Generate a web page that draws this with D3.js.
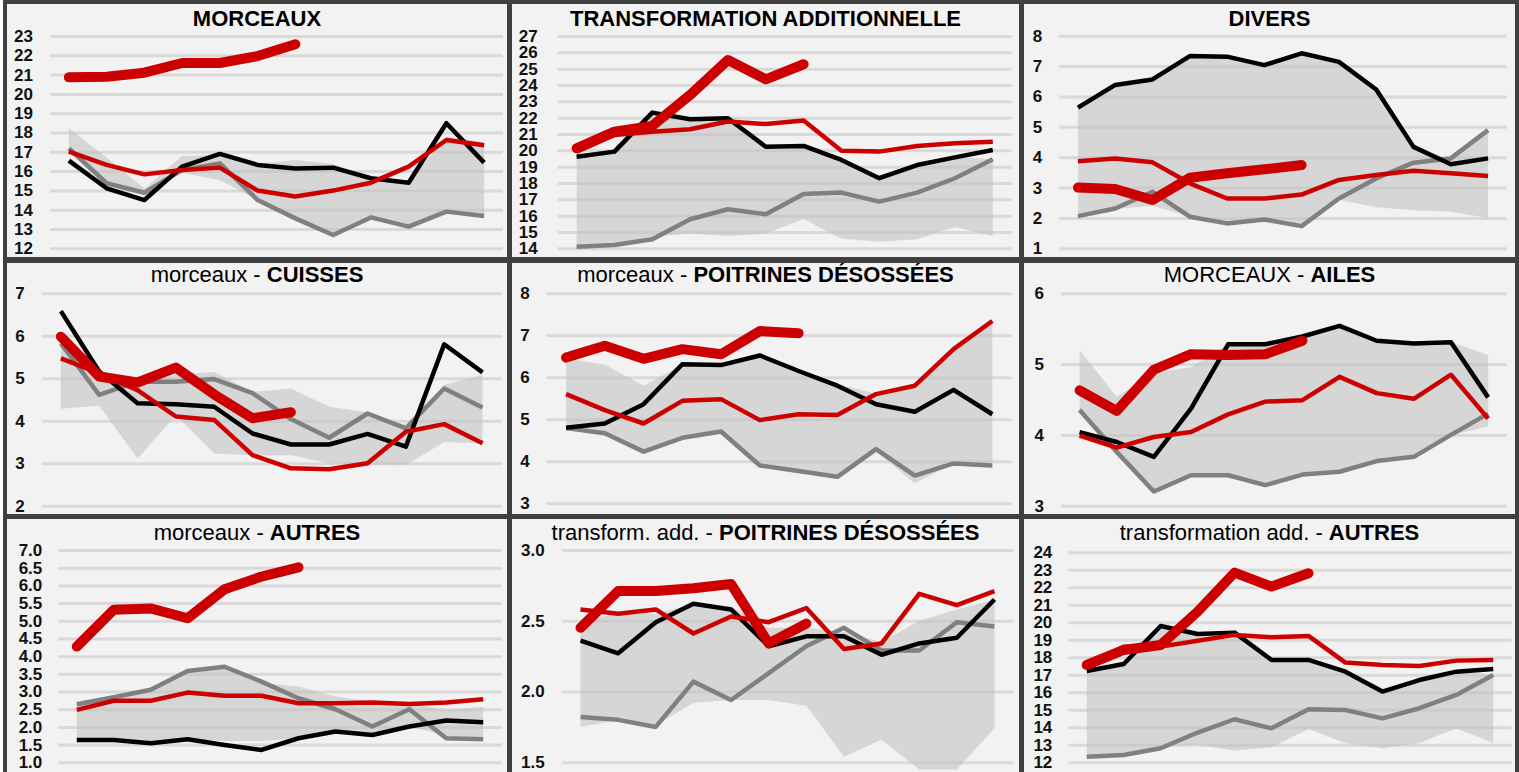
<!DOCTYPE html>
<html><head><meta charset="utf-8">
<script src="https://cdn.jsdelivr.net/npm/d3@7"></script>
<style>
html,body{margin:0;padding:0;background:#fff;overflow:hidden;}
svg{display:block;font-family:"Liberation Sans",Arial,sans-serif;}
</style></head><body>
<svg id="chart" width="1519" height="772"></svg>
<script>
// ---------- categories ----------
const mois = ["janv.","févr.","mars","avr.","mai","juin","juil.","août","sept.","oct.","nov.","déc."];

// ---------- titles ----------
const titresNormaux = ["", "", "", "morceaux - ", "morceaux - ", "MORCEAUX - ", "morceaux - ", "transform. add. - ", "transformation add. - "];
const titresGras = ["MORCEAUX", "TRANSFORMATION ADDITIONNELLE", "DIVERS", "CUISSES", "POITRINES DÉSOSSÉES", "AILES", "AUTRES", "POITRINES DÉSOSSÉES", "AUTRES"];

// ---------- tick labels ----------
const ticks_morceaux = [12,13,14,15,16,17,18,19,20,21,22,23];
const ticks_transfo = [14,15,16,17,18,19,20,21,22,23,24,25,26,27];
const ticks_divers = [1,2,3,4,5,6,7,8];
const ticks_cuisses = [2,3,4,5,6,7];
const ticks_poitrines = [3,4,5,6,7,8];
const ticks_ailes = [3,4,5,6];
const ticks_autresMorceaux = [1.0,1.5,2.0,2.5,3.0,3.5,4.0,4.5,5.0,5.5,6.0,6.5,7.0];
const ticks_poitrinesTransfo = [1.5,2.0,2.5,3.0];
const ticks_autresTransfo = [12,13,14,15,16,17,18,19,20,21,22,23,24];

// ---------- MORCEAUX ----------
const morceaux_min   = [17.18,15.37,14.76,15.9,15.54,14.5,13.55,12.69,13.6,13.12,13.9,13.67];
const morceaux_max   = [18.22,16.7,15.1,16.78,16.84,16.4,16.57,16.37,15.7,15.45,17.78,17.5];
const morceaux_gris  = [17.18,15.37,14.88,16.06,16.4,14.5,13.55,12.69,13.6,13.12,13.9,13.67];
const morceaux_noir  = [16.54,15.11,14.5,16.23,16.89,16.32,16.14,16.18,15.63,15.4,18.48,16.44];
const morceaux_rouge = [17.01,16.32,15.83,16.06,16.18,14.99,14.68,14.99,15.4,16.23,17.61,17.34];
const morceaux_actuel= [20.86,20.89,21.1,21.6,21.6,21.96,22.57];

// ---------- TRANSFORMATION ADDITIONNELLE ----------
const transfo_min   = [14.1,14.2,14.7,14.9,14.75,14.9,15.78,14.6,14.4,14.55,15.3,14.75];
const transfo_max   = [19.6,19.9,22.3,22.0,22.0,20.3,20.3,19.5,18.3,19.1,19.6,19.45];
const transfo_gris  = [14.1,14.2,14.55,15.78,16.39,16.08,17.33,17.41,16.86,17.41,18.29,19.45];
const transfo_noir  = [19.61,19.92,22.31,21.9,21.96,20.22,20.27,19.41,18.29,19.1,19.57,20.02];
const transfo_rouge = [19.92,20.94,21.14,21.29,21.76,21.61,21.82,19.98,19.92,20.27,20.43,20.53];
const transfo_actuel= [20.12,21.14,21.49,23.39,25.53,24.35,25.27];

// ---------- DIVERS ----------
const divers_min   = [2.0,2.3,2.4,2.05,1.85,1.95,1.75,2.6,2.35,2.25,2.2,2.0];
const divers_max   = [5.63,6.38,6.56,7.33,7.31,7.03,7.42,7.14,6.23,4.34,3.9,4.89];
const divers_gris  = [2.06,2.31,2.86,2.04,1.82,1.95,1.73,2.64,3.3,3.82,3.96,4.89];
const divers_noir  = [5.63,6.38,6.56,7.33,7.31,7.03,7.42,7.14,6.23,4.34,3.77,3.96];
const divers_rouge = [3.87,3.96,3.83,3.14,2.64,2.64,2.77,3.25,3.41,3.55,3.47,3.38];
const divers_actuel= [3.0,2.95,2.59,3.32,3.47,3.6,3.74];

// ---------- morceaux - CUISSES ----------
const cuisses_min   = [4.28,4.35,3.11,4.13,3.23,3.19,3.19,3.0,2.97,2.96,3.5,3.47];
const cuisses_max   = [5.9,5.15,4.85,5.08,5.15,4.68,4.76,4.33,4.2,3.9,4.84,5.08];
const cuisses_gris  = [5.82,4.61,4.92,4.92,4.98,4.65,4.04,3.6,4.17,3.82,4.76,4.31];
const cuisses_noir  = [6.58,5.16,4.41,4.39,4.33,3.7,3.44,3.44,3.69,3.39,5.8,5.14];
const cuisses_rouge = [5.47,5.12,4.72,4.1,4.02,3.19,2.88,2.86,3.0,3.74,3.92,3.47];
const cuisses_actuel= [5.98,5.04,4.9,5.25,4.62,4.06,4.2];

// ---------- morceaux - POITRINES DÉSOSSÉES ----------
const poitrines_min   = [4.79,4.67,4.23,4.56,4.71,3.9,3.77,3.63,4.23,3.48,3.95,3.9];
const poitrines_max   = [6.45,6.3,5.8,6.3,6.3,6.5,6.15,5.85,5.6,5.8,6.67,7.3];
const poitrines_gris  = [4.79,4.67,4.23,4.56,4.71,3.9,3.77,3.63,4.29,3.66,3.95,3.9];
const poitrines_noir  = [4.8,4.9,5.36,6.31,6.29,6.52,6.15,5.8,5.36,5.18,5.7,5.12];
const poitrines_rouge = [5.6,5.22,4.9,5.44,5.48,4.98,5.12,5.1,5.6,5.8,6.67,7.34];
const poitrines_actuel= [6.47,6.75,6.44,6.67,6.55,7.1,7.05];

// ---------- MORCEAUX - AILES ----------
const ailes_min   = [4.35,3.76,3.2,3.43,3.43,3.29,3.44,3.48,3.63,3.69,4.0,4.12];
const ailes_max   = [5.2,4.54,4.87,4.96,5.28,5.31,5.39,5.54,5.33,5.29,5.31,5.13];
const ailes_gris  = [4.35,3.76,3.2,3.43,3.43,3.29,3.44,3.48,3.63,3.69,4.0,4.3];
const ailes_noir  = [4.04,3.9,3.69,4.37,5.28,5.28,5.39,5.54,5.33,5.29,5.31,4.53];
const ailes_rouge = [3.99,3.82,3.97,4.04,4.29,4.47,4.49,4.82,4.59,4.51,4.85,4.23];
const ailes_actuel= [4.63,4.34,4.92,5.14,5.13,5.14,5.33];

// ---------- morceaux - AUTRES ----------
const autresMorceaux_min   = [1.63,1.63,1.58,1.65,1.6,1.6,1.68,1.87,1.77,2.01,1.75,1.68];
const autresMorceaux_max   = [2.64,2.86,3.05,3.52,3.66,3.24,3.14,2.86,2.72,2.67,2.48,2.57];
const autresMorceaux_gris  = [2.64,2.84,3.05,3.58,3.7,3.28,2.81,2.5,2.01,2.5,1.68,1.65];
const autresMorceaux_noir  = [1.63,1.63,1.54,1.65,1.49,1.35,1.68,1.87,1.77,2.01,2.18,2.13];
const autresMorceaux_rouge = [2.48,2.74,2.74,2.97,2.88,2.88,2.67,2.67,2.69,2.65,2.69,2.78];
const autresMorceaux_actuel= [4.27,5.31,5.35,5.07,5.89,6.25,6.51];

// ---------- transform. add. - POITRINES DÉSOSSÉES ----------
const poitrinesTransfo_min   = [1.75,1.8,1.76,1.92,1.94,1.94,1.9,1.54,1.66,1.45,1.45,1.74];
const poitrinesTransfo_max   = [2.5,2.55,2.55,2.62,2.6,2.45,2.45,2.42,2.35,2.5,2.58,2.65];
const poitrinesTransfo_gris  = [1.82,1.8,1.75,2.07,1.94,2.13,2.32,2.45,2.29,2.29,2.49,2.46];
const poitrinesTransfo_noir  = [2.36,2.27,2.49,2.62,2.58,2.32,2.39,2.39,2.26,2.34,2.38,2.65];
const poitrinesTransfo_rouge = [2.58,2.55,2.58,2.41,2.53,2.49,2.59,2.3,2.34,2.69,2.61,2.71];
const poitrinesTransfo_actuel= [2.45,2.71,2.71,2.73,2.76,2.34,2.48];

// ---------- transformation add. - AUTRES ----------
const autresTransfo_min   = [12.32,12.42,12.9,13.0,12.67,12.86,13.9,13.1,12.8,13.1,13.94,13.1];
const autresTransfo_max   = [17.22,17.62,19.79,19.33,19.41,17.85,17.85,17.18,16.04,16.7,17.18,17.0];
const autresTransfo_gris  = [12.32,12.42,12.8,13.7,14.46,13.94,15.03,14.99,14.51,15.09,15.85,16.99];
const autresTransfo_noir  = [17.22,17.62,19.79,19.33,19.41,17.85,17.85,17.18,16.04,16.7,17.18,17.33];
const autresTransfo_rouge = [17.47,18.61,18.61,18.95,19.28,19.14,19.22,17.7,17.56,17.5,17.81,17.85];
const autresTransfo_actuel= [17.56,18.42,18.7,20.61,22.84,22.04,22.8];

// ---------- table built from the arrays ----------
const panels = [
  {ticks:ticks_morceaux, fmt:"d", min:morceaux_min, max:morceaux_max, gris:morceaux_gris, noir:morceaux_noir, rouge:morceaux_rouge, actuel:morceaux_actuel},
  {ticks:ticks_transfo, fmt:"d", min:transfo_min, max:transfo_max, gris:transfo_gris, noir:transfo_noir, rouge:transfo_rouge, actuel:transfo_actuel},
  {ticks:ticks_divers, fmt:"d", min:divers_min, max:divers_max, gris:divers_gris, noir:divers_noir, rouge:divers_rouge, actuel:divers_actuel},
  {ticks:ticks_cuisses, fmt:"d", min:cuisses_min, max:cuisses_max, gris:cuisses_gris, noir:cuisses_noir, rouge:cuisses_rouge, actuel:cuisses_actuel},
  {ticks:ticks_poitrines, fmt:"d", min:poitrines_min, max:poitrines_max, gris:poitrines_gris, noir:poitrines_noir, rouge:poitrines_rouge, actuel:poitrines_actuel},
  {ticks:ticks_ailes, fmt:"d", min:ailes_min, max:ailes_max, gris:ailes_gris, noir:ailes_noir, rouge:ailes_rouge, actuel:ailes_actuel},
  {ticks:ticks_autresMorceaux, fmt:".1f", min:autresMorceaux_min, max:autresMorceaux_max, gris:autresMorceaux_gris, noir:autresMorceaux_noir, rouge:autresMorceaux_rouge, actuel:autresMorceaux_actuel},
  {ticks:ticks_poitrinesTransfo, fmt:".1f", min:poitrinesTransfo_min, max:poitrinesTransfo_max, gris:poitrinesTransfo_gris, noir:poitrinesTransfo_noir, rouge:poitrinesTransfo_rouge, actuel:poitrinesTransfo_actuel},
  {ticks:ticks_autresTransfo, fmt:"d", min:autresTransfo_min, max:autresTransfo_max, gris:autresTransfo_gris, noir:autresTransfo_noir, rouge:autresTransfo_rouge, actuel:autresTransfo_actuel}
];

// ---------- layout ----------
const W = 1519, H = 772;
const colX = [[7,507],[512,1019],[1024,1515]];
const rowY = [[4,257],[263,514],[519,772]];
const titleBase = [26,282,540];
const plotY = [[36,248.3],[36,248.3],[35.7,248.3],[293.3,505.7],[293.3,503.3],[293.3,505.7],[550,762.3],[550,762.3],[552.3,762.3]];
const gridX = [[50,503],[557.7,1011.7],[1059.3,1506.7],[41.7,501.7],[546.7,1011.7],[1061,1506.7],[58.3,501.7],[561.7,1013.3],[1068.3,1511.7]];
const labelGap = [17,20,17,17,17,17,16,17,16];

const COL_BG = "#f2f2f2", COL_BORDER = "#404040", COL_GRID = "#d9d9d9";
const COL_BAND = "#bfbfbf", COL_GRAY = "#808080", COL_BLACK = "#000000", COL_RED = "#cc0000";

const svg = d3.select("#chart");
svg.append("rect").attr("x",0).attr("y",0).attr("width",W).attr("height",H).attr("fill","#ffffff");
svg.append("rect").attr("x",3).attr("y",0).attr("width",W-3).attr("height",H).attr("fill",COL_BORDER);
const defs = svg.append("defs");

panels.forEach((p,i) => {
  const c = i % 3, r = Math.floor(i / 3);
  const [x0,x1] = colX[c], [y0,y1] = rowY[r];
  const g = svg.append("g");
  defs.append("clipPath").attr("id","clip"+i).append("rect")
    .attr("x",x0).attr("y",y0).attr("width",x1-x0).attr("height",y1-y0);
  g.attr("clip-path","url(#clip"+i+")");
  g.append("rect").attr("x",x0).attr("y",y0).attr("width",x1-x0).attr("height",y1-y0).attr("fill",COL_BG);

  const x = d3.scalePoint().domain(mois).range(gridX[i]).padding(0.5);
  const y = d3.scaleLinear().domain([d3.min(p.ticks), d3.max(p.ticks)]).range([plotY[i][1], plotY[i][0]]);

  // gridlines + labels through the axis
  const axis = d3.axisLeft(y).tickValues(p.ticks)
    .tickSize(-(gridX[i][1]-gridX[i][0])).tickPadding(labelGap[i])
    .tickFormat(d3.format(p.fmt));
  const ax = g.append("g").attr("transform",`translate(${gridX[i][0]},0)`).call(axis);
  ax.select(".domain").remove();
  ax.selectAll(".tick line").attr("stroke",COL_GRID).attr("stroke-width",3);
  ax.selectAll(".tick text")
    .attr("font-family","'Liberation Sans',Arial,sans-serif")
    .attr("font-size",17).attr("font-weight","bold").attr("fill","#111");
  ax.attr("font-size",null).attr("font-family",null);

  // band
  const bandData = mois.map((m,k) => ({m, lo:p.min[k], hi:p.max[k]}));
  g.append("path").datum(bandData)
    .attr("d", d3.area().x(d=>x(d.m)).y0(d=>y(d.lo)).y1(d=>y(d.hi)))
    .attr("fill",COL_BAND).attr("fill-opacity",0.55);

  const line = d3.line().x(d=>x(d.m)).y(d=>y(d.v));
  const ser = arr => arr.map((v,k)=>({m:mois[k], v}));
  const drawLine = (arr, color, w, cap) => g.append("path").datum(ser(arr))
    .attr("d", line).attr("fill","none").attr("stroke",color)
    .attr("stroke-width",w).attr("stroke-linejoin","round").attr("stroke-linecap",cap);

  drawLine(p.gris, COL_GRAY, 4.5, "butt");
  drawLine(p.noir, COL_BLACK, 4.5, "butt");
  drawLine(p.rouge, COL_RED, 4.5, "butt");
  drawLine(p.actuel, COL_RED, 10, "round");

  // title
  const t = g.append("text").attr("x",(x0+x1)/2).attr("y",titleBase[r])
    .attr("text-anchor","middle").attr("font-size",22).attr("fill","#000")
    .attr("font-family","'Liberation Sans',Arial,sans-serif");
  if (titresNormaux[i]) t.append("tspan").attr("font-weight","normal").text(titresNormaux[i]);
  t.append("tspan").attr("font-weight","bold").text(titresGras[i]);
});
</script>
</body></html>
